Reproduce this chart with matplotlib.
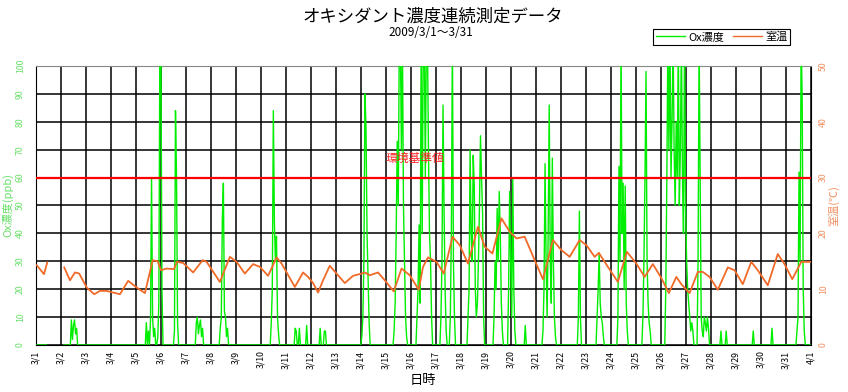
import numpy as np
import matplotlib
matplotlib.use('Agg')
import matplotlib.pyplot as plt
from matplotlib.lines import Line2D

plt.rcParams['font.family'] = ['Noto Sans CJK JP', 'DejaVu Sans']

# ---------------- data ----------------
title = 'オキシダント濃度連続測定データ'
subtitle = '2009/3/1～3/31'
day_labels = ['3/1', '3/2', '3/3', '3/4', '3/5', '3/6', '3/7', '3/8', '3/9', '3/10',
              '3/11', '3/12', '3/13', '3/14', '3/15', '3/16', '3/17', '3/18', '3/19',
              '3/20', '3/21', '3/22', '3/23', '3/24', '3/25', '3/26', '3/27', '3/28',
              '3/29', '3/30', '3/31', '4/1']
standard_ppb = 60
standard_label = '環境基準値'

# room temperature (days since 3/1 00:00, degC)
temp_day = [0.03, 0.32, 0.45, 0.46, 1.12, 1.13, 1.36, 1.56, 1.73, 2.03, 2.33, 2.56, 2.83,
            3.09, 3.36, 3.69, 4.03, 4.36, 4.67, 4.87, 5.0, 5.23, 5.52, 5.64, 5.89,
            6.29, 6.67, 6.83, 7.36, 7.76, 8.03, 8.36, 8.69, 8.96, 9.29, 9.63, 9.83,
            10.36, 10.69, 10.89, 11.09, 11.29, 11.49, 11.76, 12.03, 12.36, 12.69,
            13.03, 13.16, 13.36, 13.69, 13.96, 14.32, 14.63, 14.96, 15.32, 15.49,
            15.69, 16.03, 16.32, 16.67, 16.96, 17.29, 17.69, 17.96, 18.27, 18.63,
            18.96, 19.23, 19.56, 19.96, 20.29, 20.69, 21.03, 21.36, 21.76, 22.03,
            22.36, 22.53, 22.89, 23.29, 23.65, 24.03, 24.36, 24.69, 25.03, 25.33,
            25.63, 25.83, 26.16, 26.49, 26.69, 26.96, 27.29, 27.69, 27.96, 28.29,
            28.63, 28.89, 29.29, 29.69, 29.96, 30.27, 30.63, 30.96, 31.0]
temp_c = [14.3, 12.7, 14.8, np.nan, np.nan, 13.9, 11.6, 13.0, 12.8, 10.3, 9.1, 9.7, 9.7,
          9.4, 9.1, 11.5, 10.3, 9.3, 15.2, 15.0, 13.4, 13.7, 13.6, 14.9, 14.7,
          13.0, 15.2, 14.9, 11.3, 15.8, 14.9, 12.8, 14.5, 14.0, 12.4, 15.7, 14.6,
          10.4, 13.0, 12.2, 11.1, 9.4, 11.6, 14.2, 12.8, 11.1, 12.4,
          12.8, 13.0, 12.5, 13.0, 11.6, 9.6, 13.7, 12.5, 9.9, 14.0,
          15.7, 14.9, 12.8, 19.4, 17.9, 14.6, 21.2, 17.6, 16.4, 22.7,
          20.3, 19.1, 19.4, 15.2, 11.8, 18.8, 17.0, 15.8, 18.8, 17.9,
          15.8, 16.5, 14.0, 11.3, 16.7, 14.6, 12.2, 14.5, 12.0, 9.3,
          12.2, 10.9, 9.3, 13.1, 13.1, 12.2, 9.9, 13.9, 13.4, 10.9,
          14.9, 13.4, 10.7, 16.3, 14.5, 11.8, 14.9, 14.9, 14.9]

# Ox concentration: hourly values (ppb); hours not listed read as 0
ox_gap_hours = (11, 27)          # no data
ox_segments = [
    (34, [9, 2, 7, 9, 4, 6]),
    (106, [8, 0, 5, 0, 9, 60, 10, 3, 6, 0, 0, 3, 15, 110, 105, 20]),
    (133, [5, 84, 60, 8]),
    (154, [8, 10, 4, 7, 9, 3, 6]),
    (177, [6, 10, 45, 58, 12, 10, 3, 6]),
    (226, [8, 20, 84, 44, 30, 39, 10, 4]),
    (249, [6, 5, 0, 0, 6]),
    (260, [7]),
    (273, [6, 0, 0, 0, 5, 5]),
    (313, [3, 10, 30, 90, 78, 40, 24, 8]),
    (344, [5, 15, 40, 73, 50, 110, 110, 70, 110, 50, 30, 10, 3]),
    (366, [10, 20, 43, 15, 110, 40, 110, 110, 60, 110, 110, 70, 40, 30, 10]),
    (389, [10, 30, 86, 48, 20, 5, 0, 0, 0, 10, 40, 110, 30, 10]),
    (415, [10, 20, 70, 40, 30, 68, 57, 20, 10, 15, 30, 50, 75, 60, 47, 10]),
    (440, [10, 30, 20, 49, 30, 55, 40, 15, 5]),
    (454, [20, 55, 30, 10, 60, 20, 5]),
    (470, [7]),
    (487, [5, 20, 65, 30, 10, 40, 86, 30, 15, 67, 30, 10, 3]),
    (521, [10, 48, 10]),
    (539, [10, 20, 33, 15, 10, 8, 3]),
    (559, [10, 64, 30, 110, 40, 58, 20, 57, 15, 5]),
    (583, [10, 30, 60, 98, 30, 15, 8, 5]),
    (605, [20, 60, 110, 70, 110, 60, 80, 110, 70, 50, 80, 60, 110, 50, 70, 110,
           60, 40, 110, 50, 30, 20, 15, 10, 5, 8, 5]),
    (636, [30, 110, 60, 10, 5, 3, 10, 8, 5, 10, 6]),
    (658, [5]),
    (663, [5]),
    (689, [5]),
    (707, [6]),
    (731, [5, 10, 62, 30, 110, 88, 20, 5]),
]

# ---------------- build series ----------------
n_hours = 31 * 24
ox = np.zeros(n_hours + 1)
for start, vals in ox_segments:
    ox[start:start + len(vals)] = vals
ox[ox_gap_hours[0]:ox_gap_hours[1]] = np.nan
ox_day = np.arange(n_hours + 1) / 24.0

# ---------------- figure ----------------
green = '#00ee00'
orange = '#f06a28'
green_lbl = '#66e066'
orange_lbl = '#f09060'

fig = plt.figure(figsize=(8.48, 3.92), dpi=100)
ax = fig.add_axes([36 / 848, 47 / 392, (810.5 - 36) / 848, (345 - 66) / 392])

ax.set_xlim(0, 31)
ax.set_ylim(0, 100)
ax.set_xticks(np.arange(0, 32))
ax.set_xticklabels(day_labels, rotation=90, fontsize=6.3, va='top')
ax.set_yticks(np.arange(0, 101, 10))
ax.set_yticklabels([str(v) for v in range(0, 101, 10)], rotation=90, fontsize=6.3,
                   color=green_lbl, va='center')
ax.tick_params(axis='both', length=0, pad=4)
ax.tick_params(axis='y', pad=8)
ax.grid(True, color='black', linewidth=1.1)
ax.set_axisbelow(True)
for s in ['left', 'right', 'bottom']:
    ax.spines[s].set_color('black')
ax.spines['top'].set_color('#888888')

ax.plot(ox_day, ox, color=green, linewidth=1.0, zorder=3)
ax.axhline(standard_ppb, color='#ff0000', linewidth=1.6, zorder=4)
ax.text(15.15, 67, standard_label, color='#ff2020', fontsize=8.5, ha='center',
        va='center', zorder=5)

ax.set_ylabel('Ox濃度(ppb)', color=green_lbl, fontsize=8, labelpad=2)
ax.set_xlabel('日時', fontsize=9.5, labelpad=4)

ax2 = ax.twinx()
ax2.set_ylim(0, 50)
ax2.set_yticks(np.arange(0, 51, 10))
ax2.set_yticklabels([str(v) for v in range(0, 51, 10)], rotation=90, fontsize=6.3,
                    color=orange_lbl, va='center')
ax2.tick_params(axis='y', length=0, pad=6)
ax2.plot(temp_day, temp_c, color=orange, linewidth=1.3, zorder=5)
ax2.set_ylabel('室温(℃)', color=orange_lbl, fontsize=8, labelpad=0, rotation=90)
for s in ax2.spines.values():
    s.set_visible(False)

fig.text(0.51, 0.958, title, ha='center', va='center', fontsize=12.5)
fig.text(0.508, 0.916, subtitle, ha='center', va='center', fontsize=8.5)

handles = [Line2D([], [], color=green, linewidth=1.0),
           Line2D([], [], color=orange, linewidth=1.0)]
leg = fig.legend(handles, ['Ox濃度', '室温'], loc='upper right',
                 bbox_to_anchor=(790 / 848, 1 - 29 / 392), ncol=2, fontsize=8,
                 frameon=True, fancybox=False, edgecolor='black', framealpha=1,
                 handlelength=2.6, handletextpad=0.3, columnspacing=0.8,
                 borderpad=0.25, borderaxespad=0)
leg.get_frame().set_linewidth(0.8)

fig.savefig('out.png', dpi=100)
